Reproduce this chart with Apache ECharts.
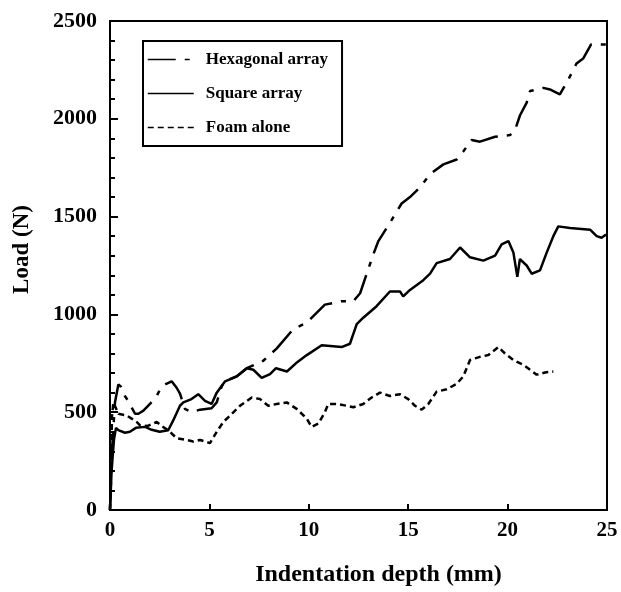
<!DOCTYPE html>
<html>
<head>
<meta charset="utf-8">
<script src="https://cdn.jsdelivr.net/npm/echarts@6/dist/echarts.min.js"></script>
<style>
  html, body { margin: 0; padding: 0; background: #fff; }
  #chart { width: 621px; height: 592px; }
</style>
</head>
<body>
<div id="chart"></div>
<script>
// load vs indentation depth
var seriesNames = ['Hexagonal array', 'Square array', 'Foam alone'];

var hexagonal = [
    [0, 0], [0.1, 300], [0.25, 550], [0.42, 642], [0.55, 630], [0.75, 583], [0.9, 560],
    [1.26, 492], [1.43, 492], [1.68, 508], [2.01, 542], [2.35, 583], [2.6, 633], [3.1, 658],
    [3.35, 625], [3.52, 595], [3.77, 517], [4.11, 500], [4.53, 513], [5.11, 520], [5.37, 550],
    [5.62, 633], [5.79, 658], [6.37, 683], [6.88, 725], [7.71, 763], [8.38, 825], [9.22, 925],
    [9.9, 958], [10.81, 1050], [11.65, 1067], [12.24, 1067], [12.58, 1108], [12.83, 1183],
    [13.25, 1308], [13.5, 1375], [14.17, 1483], [14.67, 1567], [15.09, 1600], [15.6, 1650],
    [16.1, 1717], [16.77, 1767], [17.44, 1792], [17.77, 1833], [18.19, 1892], [18.61, 1883],
    [19.37, 1908], [20.12, 1917], [20.37, 1942], [20.62, 2017], [20.96, 2083], [21.13, 2142],
    [21.8, 2158], [22.13, 2150], [22.63, 2125], [23.05, 2200], [23.47, 2283], [23.8, 2308],
    [24.2, 2380], [25, 2380]
];

var square = [
    [0, 0], [0.08, 200], [0.2, 360], [0.3, 420], [0.42, 408], [0.75, 395], [1.0, 400],
    [1.3, 420], [1.76, 425], [2.1, 410], [2.5, 400], [2.93, 408], [3.18, 458], [3.52, 533],
    [3.69, 550], [4.1, 567], [4.44, 592], [4.78, 558], [5.11, 542], [5.37, 600], [5.79, 658],
    [6.37, 683], [6.88, 725], [7.21, 717], [7.63, 675], [8.05, 695], [8.35, 725], [8.9, 708],
    [9.35, 750], [9.9, 792], [10.65, 842], [11.65, 833], [12.07, 850], [12.41, 950],
    [12.74, 983], [13.41, 1042], [14.08, 1117], [14.59, 1117], [14.75, 1092], [15.09, 1125],
    [15.76, 1175], [16.1, 1208], [16.43, 1262], [17.1, 1283], [17.61, 1342], [18.11, 1292],
    [18.78, 1275], [19.37, 1300], [19.7, 1358], [20.04, 1375], [20.29, 1317], [20.49, 1192],
    [20.62, 1283], [20.96, 1250], [21.21, 1208], [21.63, 1225], [21.97, 1317], [22.3, 1400],
    [22.55, 1450], [23.14, 1442], [24.15, 1433], [24.48, 1400], [24.73, 1392], [24.95, 1408]
];

var foam = [
    [0, 0], [0.1, 480], [0.17, 550], [0.42, 492], [0.84, 483], [1.09, 467], [1.34, 450],
    [1.51, 433], [1.9, 430], [2.35, 450], [2.6, 430], [3.02, 400], [3.35, 367], [3.86, 358],
    [4.19, 350], [4.53, 358], [5.03, 342], [5.37, 400], [5.7, 450], [6.04, 483], [6.54, 533],
    [7.13, 575], [7.55, 567], [7.96, 533], [8.38, 542], [8.89, 550], [9.39, 517], [9.9, 467],
    [10.14, 425], [10.48, 442], [10.81, 500], [10.98, 542], [11.4, 542], [11.9, 533],
    [12.24, 525], [12.74, 542], [13.16, 575], [13.58, 600], [14.08, 583], [14.59, 592],
    [15.0, 567], [15.34, 533], [15.68, 513], [16.01, 542], [16.43, 605], [16.93, 617],
    [17.44, 645], [17.77, 683], [18.11, 767], [18.61, 783], [19.03, 792], [19.53, 833],
    [19.87, 800], [20.29, 767], [20.79, 742], [21.13, 717], [21.46, 692], [21.88, 703],
    [22.3, 708]
];

var FONT = "'Liberation Serif', 'Times New Roman', serif";

var chart = echarts.init(document.getElementById('chart'));

function lineSeries(name, data, dash) {
    return {
        name: name,
        type: 'line',
        data: data,
        symbol: 'none',
        animation: false,
        lineStyle: { color: '#000', width: 2.5, type: dash },
        itemStyle: { color: '#000' }
    };
}

chart.setOption({
    backgroundColor: '#fff',
    grid: {
        left: 110, right: 14, top: 21, bottom: 73,
        show: true, borderColor: '#000', borderWidth: 2
    },
    legend: {
        orient: 'vertical',
        left: 143, top: 41,
        data: seriesNames,
        itemWidth: 46, itemHeight: 16, itemGap: 17,
        padding: [10, 14, 10, 4],
        borderColor: '#000', borderWidth: 2,
        lineStyle: { width: 1.5 },
        itemStyle: { opacity: 0 },
        textStyle: {
            fontFamily: FONT, fontWeight: 'bold', fontSize: 17, color: '#000',
            padding: [0, 0, 0, 7]
        }
    },
    xAxis: {
        type: 'value', min: 0, max: 25, interval: 5,
        name: 'Indentation depth (mm)', nameLocation: 'middle', nameGap: 53,
        nameTextStyle: {
            fontFamily: FONT, fontWeight: 'bold', fontSize: 24, color: '#000',
            padding: [0, 0, 0, 40]
        },
        axisLine: { onZero: false, lineStyle: { color: '#000', width: 2 } },
        axisTick: { inside: true, length: 6, lineStyle: { color: '#000', width: 2 } },
        axisLabel: { margin: 10, fontFamily: FONT, fontWeight: 'bold', fontSize: 21, color: '#000' },
        splitLine: { show: false }
    },
    yAxis: {
        type: 'value', min: 0, max: 2500, interval: 500,
        name: 'Load (N)', nameLocation: 'middle', nameGap: 76,
        nameTextStyle: {
            fontFamily: FONT, fontWeight: 'bold', fontSize: 23, color: '#000',
            padding: [0, 0, 0, 32]
        },
        axisLine: { onZero: false, lineStyle: { color: '#000', width: 2 } },
        axisTick: { inside: true, length: 8, lineStyle: { color: '#000', width: 2 } },
        minorTick: { show: true, splitNumber: 5, length: 5, lineStyle: { color: '#000', width: 2 } },
        axisLabel: {
            margin: 13, fontFamily: FONT, fontWeight: 'bold', fontSize: 22, color: '#000',
            formatter: function (v) { return String(v); }
        },
        splitLine: { show: false }
    },
    series: [
        lineSeries(seriesNames[0], hexagonal, [28, 9, 5, 9]),
        lineSeries(seriesNames[1], square, 'solid'),
        lineSeries(seriesNames[2], foam, [6, 4])
    ]
});
</script>
</body>
</html>
